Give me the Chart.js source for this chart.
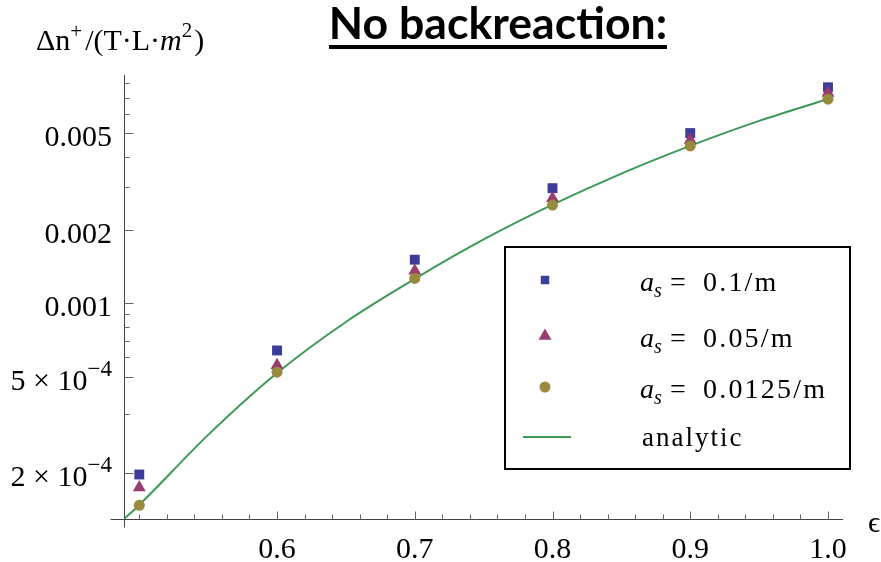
<!DOCTYPE html>
<html>
<head>
<meta charset="utf-8">
<script src="https://cdn.jsdelivr.net/npm/chart.js@4/dist/chart.umd.min.js"></script>
<style>
  html, body { margin: 0; padding: 0; background: #fff; }
  #wrap { width: 881px; height: 562px; position: relative; }
</style>
</head>
<body>
<div id="wrap"><canvas id="chart"></canvas></div>
<script>
// ---- values ----
const epsilon = [0.5, 0.6, 0.7, 0.8, 0.9, 1.0];
const as01 = [1.98e-4, 6.4e-4, 1.51e-3, 2.97e-3, 5.0e-3, 7.71e-3];      // a_s = 0.1/m
const as005 = [1.75e-4, 5.57e-4, 1.36e-3, 2.70e-3, 4.68e-3, 7.30e-3];   // a_s = 0.05/m
const as00125 = [1.48e-4, 5.21e-4, 1.265e-3, 2.53e-3, 4.43e-3, 6.89e-3]; // a_s = 0.0125/m

const analyticX = [0.489, 0.5, 0.55, 0.6, 0.65, 0.7, 0.75, 0.8, 0.85, 0.9, 0.95, 1.0];
const analyticY = [1.30e-4, 1.485e-4, 2.88e-4, 5.17e-4, 8.38e-4, 1.259e-3, 1.828e-3, 2.54e-3, 3.41e-3, 4.43e-3, 5.61e-3, 6.90e-3];

const xMajorTicks = [0.6, 0.7, 0.8, 0.9, 1.0];
const xTickLabels = ['0.6', '0.7', '0.8', '0.9', '1.0'];
const xMinorTicks = [0.5, 0.52, 0.54, 0.56, 0.58, 0.62, 0.64, 0.66, 0.68, 0.72, 0.74, 0.76, 0.78,
                     0.82, 0.84, 0.86, 0.88, 0.92, 0.94, 0.96, 0.98];
const yMajorTicks = [2e-4, 5e-4, 0.001, 0.002, 0.005];
const yTickLabels = ['2 \u00d7 10^\u22124', '5 \u00d7 10^\u22124', '0.001', '0.002', '0.005'];
const yMinorTicks = [3.5e-4, 6e-4, 7e-4, 8e-4, 9e-4, 0.003, 0.004, 0.006, 0.007, 0.008];

const seriesLabels = ['0.1/m', '0.05/m', '0.0125/m', 'analytic'];
const colors = ['#3d3d99', '#993d71', '#998b3d', '#3d9956'];

const SERIF = '"Liberation Serif", "Times New Roman", serif';

function pts(xs, ys) {
    return xs.map((x, i) => ({ x: x, y: ys[i] }));
}

// draws text pieces one after another: [{t, font, dy}]
function drawPieces(ctx, pieces, x, y) {
    let cx = x;
    pieces.forEach(p => {
        ctx.font = p.font;
        ctx.fillText(p.t, cx, y + (p.dy || 0));
        cx += ctx.measureText(p.t).width + (p.gap || 0);
    });
    return cx;
}

function piecesWidth(ctx, pieces) {
    let w = 0;
    pieces.forEach(p => {
        ctx.font = p.font;
        w += ctx.measureText(p.t).width + (p.gap || 0);
    });
    return w;
}

const axesPlugin = {
    id: 'mmaAxes',
    beforeDatasetsDraw(chart) {
        const ctx = chart.ctx;
        const xs = chart.scales.x, ys = chart.scales.y;
        const area = chart.chartArea;
        const ax = Math.round(area.left) + 0.5;
        const ay = Math.round(area.bottom) + 0.5;
        ctx.save();
        ctx.strokeStyle = '#444';
        ctx.lineWidth = 1;
        ctx.beginPath();
        ctx.moveTo(ax, area.top);
        ctx.lineTo(ax, ay + 8);
        ctx.moveTo(ax - 14, ay);
        ctx.lineTo(area.right, ay);
        ctx.stroke();

        ctx.strokeStyle = '#666';
        ctx.beginPath();
        yMajorTicks.forEach(v => {
            const py = Math.round(ys.getPixelForValue(v)) + 0.5;
            ctx.moveTo(ax, py); ctx.lineTo(ax + 9, py);
        });
        yMinorTicks.forEach(v => {
            const py = Math.round(ys.getPixelForValue(v)) + 0.5;
            ctx.moveTo(ax, py); ctx.lineTo(ax + 5, py);
        });
        xMajorTicks.forEach(v => {
            const px = Math.round(xs.getPixelForValue(v)) + 0.5;
            ctx.moveTo(px, ay); ctx.lineTo(px, ay - 8);
        });
        xMinorTicks.forEach(v => {
            const px = Math.round(xs.getPixelForValue(v)) + 0.5;
            ctx.moveTo(px, ay); ctx.lineTo(px, ay - 5);
        });
        ctx.stroke();
        ctx.restore();
    },
    afterDraw(chart) {
        const ctx = chart.ctx;
        const xs = chart.scales.x, ys = chart.scales.y;
        const area = chart.chartArea;
        ctx.save();
        ctx.fillStyle = '#000';
        ctx.textBaseline = 'alphabetic';

        // y tick labels, right aligned
        yMajorTicks.forEach((v, i) => {
            const py = ys.getPixelForValue(v);
            const parts = yTickLabels[i].split('^');
            const pieces = [{ t: parts[0], font: '30px ' + SERIF }];
            if (parts[1]) pieces.push({ t: parts[1], font: '23px ' + SERIF, dy: -14 });
            const w = piecesWidth(ctx, pieces);
            drawPieces(ctx, pieces, area.left - 12 - w, py + 13);
        });

        // x tick labels
        ctx.textAlign = 'center';
        ctx.font = '30px ' + SERIF;
        xMajorTicks.forEach((v, i) => {
            ctx.fillText(xTickLabels[i], xs.getPixelForValue(v), area.bottom + 39);
        });
        ctx.textAlign = 'left';
        ctx.font = '30px ' + SERIF;
        ctx.fillText('\u03f5', 868, 532);

        // y axis title
        drawPieces(ctx, [
            { t: '\u0394n', font: '30px ' + SERIF },
            { t: '+', font: '21px ' + SERIF, dy: -12, gap: 3 },
            { t: '/(T\u00b7L\u00b7', font: '30px ' + SERIF },
            { t: 'm', font: 'italic 30px ' + SERIF },
            { t: '2', font: '21px ' + SERIF, dy: -13, gap: 2 },
            { t: ')', font: '30px ' + SERIF }
        ], 36, 50);

        // title
        const title = 'No backreaction:';
        ctx.font = 'bold 36px Lato';
        const tw = ctx.measureText(title).width;
        const size = 36 * 338 / tw;
        ctx.font = 'bold ' + size.toFixed(1) + 'px Lato';
        ctx.textAlign = 'center';
        ctx.fillText(title, 498, 39);
        ctx.fillRect(329, 45, 338, 4);
        ctx.textAlign = 'left';

        // legend
        const box = { l: 505, t: 247, r: 850, b: 469 };
        ctx.fillStyle = '#fff';
        ctx.fillRect(box.l, box.t, box.r - box.l, box.b - box.t);
        ctx.strokeStyle = '#000';
        ctx.lineWidth = 2;
        ctx.strokeRect(box.l, box.t, box.r - box.l, box.b - box.t);

        const rowY = [280, 336, 387, 437];
        const styles = ['rect', 'triangle', 'circle'];
        const radii = [6, 7.5, 5.5];
        ctx.fillStyle = '#000';
        rowY.forEach((y, i) => {
            if (i < 3) {
                ctx.save();
                ctx.fillStyle = colors[i];
                ctx.strokeStyle = colors[i];
                ctx.lineWidth = 0;
                Chart.helpers.drawPoint(ctx, { pointStyle: styles[i], radius: radii[i], rotation: 0, borderWidth: 0 }, 545, y);
                ctx.restore();
                ctx.fillStyle = '#000';
                if ('letterSpacing' in ctx) ctx.letterSpacing = '0px';
                ctx.font = 'italic 28px ' + SERIF;
                ctx.fillText('a', 640, y + 11);
                ctx.font = 'italic 20px ' + SERIF;
                ctx.fillText('s', 654, y + 17);
                ctx.font = '28px ' + SERIF;
                ctx.fillText('=', 670, y + 11);
                if ('letterSpacing' in ctx) ctx.letterSpacing = '2.2px';
                ctx.fillText(seriesLabels[i], 703, y + 11);
            } else {
                ctx.strokeStyle = colors[3];
                ctx.lineWidth = 2;
                ctx.beginPath();
                ctx.moveTo(523, y); ctx.lineTo(571, y);
                ctx.stroke();
                if ('letterSpacing' in ctx) ctx.letterSpacing = '2px';
                ctx.font = '27px ' + SERIF;
                ctx.fillText(seriesLabels[3], 642, y + 9);
            }
        });
        ctx.restore();
    }
};

new Chart(document.getElementById('chart'), {
    type: 'scatter',
    data: {
        datasets: [
            {
                label: 'a_s = 0.0125/m',
                data: pts(epsilon, as00125),
                backgroundColor: colors[2],
                borderWidth: 0,
                pointStyle: 'circle',
                pointRadius: 5.5,
                order: 1
            },
            {
                label: 'a_s = 0.05/m',
                data: pts(epsilon, as005),
                backgroundColor: colors[1],
                borderWidth: 0,
                pointStyle: 'triangle',
                pointRadius: 7.5,
                order: 2
            },
            {
                label: 'a_s = 0.1/m',
                data: pts(epsilon, as01),
                backgroundColor: colors[0],
                borderWidth: 0,
                pointStyle: 'rect',
                pointRadius: 7,
                order: 3
            },
            {
                type: 'line',
                label: 'analytic',
                data: pts(analyticX, analyticY),
                borderColor: colors[3],
                borderWidth: 2,
                pointRadius: 0,
                showLine: true,
                fill: false,
                cubicInterpolationMode: 'monotone',
                order: 4
            }
        ]
    },
    options: {
        responsive: true,
        maintainAspectRatio: false,
        animation: false,
        events: [],
        layout: { padding: { left: 124, right: 38, top: 75, bottom: 43 } },
        plugins: { legend: { display: false }, tooltip: { enabled: false } },
        scales: {
            x: { type: 'linear', min: 0.4889, max: 1.0109, display: false },
            y: { type: 'logarithmic', min: 1.30e-4, max: 8.66e-3, display: false }
        }
    },
    plugins: [axesPlugin]
});
</script>
</body>
</html>
